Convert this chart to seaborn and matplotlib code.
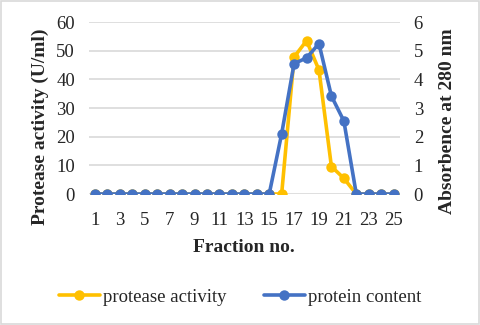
import numpy as np
import matplotlib
matplotlib.use('Agg')
import matplotlib.pyplot as plt
import seaborn as sns
import pandas as pd
from matplotlib.lines import Line2D

fractions = list(range(1, 26))
protease = [0]*15 + [0, 47.8, 53.5, 43.3, 9.6, 5.5, 0, 0, 0, 0]
protein = [0]*15 + [2.1, 4.55, 4.75, 5.25, 3.42, 2.55, 0, 0, 0, 0]

sns.set_style('white')
plt.rcParams['font.family'] = ['Liberation Serif', 'DejaVu Serif']

yellow = '#FFC000'
blue = '#4472C4'

df = pd.DataFrame({'fraction': fractions, 'protease': protease, 'protein': protein})

fig = plt.figure(figsize=(4.8, 3.25), dpi=100)
ax = fig.add_axes([0.185, 0.403, 0.648, 0.529])
ax2 = ax.twinx()

sns.lineplot(data=df, x='fraction', y='protease', ax=ax, color=yellow, lw=2.6,
             marker='o', markersize=7.5, markeredgewidth=0)
sns.lineplot(data=df, x='fraction', y='protein', ax=ax2, color=blue, lw=2.6,
             marker='o', markersize=7.5, markeredgewidth=0)

ax.set_xlim(0.5, 25.5)
ax.set_ylim(0, 60)
ax2.set_ylim(0, 6)
ax.set_yticks(range(0, 61, 10))
ax2.set_yticks(range(0, 7))
ax.set_xticks(fractions[::2])
for a in (ax, ax2):
    for s in a.spines.values():
        s.set_visible(False)
    a.tick_params(length=0, labelsize=13.5)
ax.tick_params(axis='y', pad=10)
ax2.tick_params(axis='y', pad=10)
ax.tick_params(axis='x', pad=13)
ax.grid(axis='y', color='#d9d9d9', lw=1.2)
ax.set_axisbelow(True)

ax.set_xlabel('Fraction no.', fontsize=14, fontweight='bold', labelpad=7)
ax.set_ylabel('Protease activity (U/ml)', fontsize=14, fontweight='bold')
ax2.set_ylabel('Absorbence at 280 nm', fontsize=14, fontweight='bold')
ax.yaxis.set_label_coords(-0.128, 0.39)
ax2.yaxis.set_label_coords(1.126, 0.425)

handles = [Line2D([], [], color=yellow, lw=2.6, marker='o', markersize=7.5, markeredgewidth=0),
           Line2D([], [], color=blue, lw=2.6, marker='o', markersize=7.5, markeredgewidth=0)]
fig.legend(handles, ['protease activity', 'protein content'], loc='center',
           bbox_to_anchor=(0.5, 0.085), ncol=2, frameon=False, fontsize=13.5,
           handlelength=2.2, handletextpad=0.15, columnspacing=2.0)

fig.patches.append(plt.Rectangle((0.002, 0.003), 0.996, 0.994, transform=fig.transFigure,
                                 fill=False, edgecolor='#d9d9d9', lw=1.2))

fig.savefig('out.png', dpi=100)
